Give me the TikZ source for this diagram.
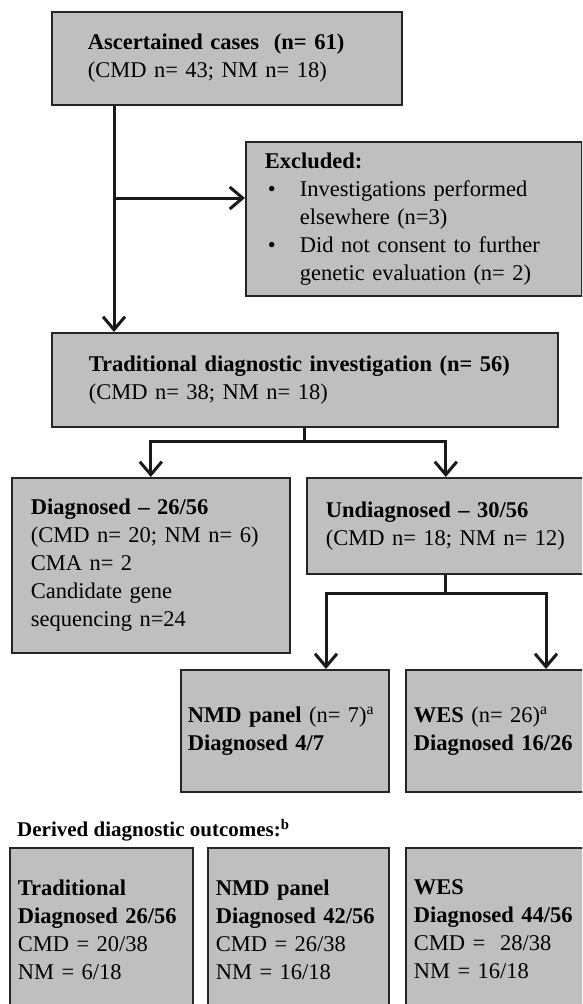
\documentclass[tikz,border=0pt]{standalone}
\usepackage{fontspec}
\setmainfont{Liberation Serif}
\usetikzlibrary{arrows.meta}

\begin{document}
\begin{tikzpicture}[x=1pt, y=-1pt,
    box/.style={draw=black!85, line width=1.6pt, fill=black!25, anchor=north west, align=left,
      inner ysep=0pt, font=\fontsize{22.5}{28}\selectfont},
    link/.style={line width=3pt, draw=black!90},
    arr/.style={link, -{Straight Barb[length=13pt, width=22pt]}}]
    \useasboundingbox (0,0) rectangle (582,1004);
    \clip (0,0) rectangle (582,1004);
    \node[box, minimum width=350pt, minimum height=93pt, inner xsep=36pt, text width=278pt] (asc) at (51,11)
      {\textbf{Ascertained cases\ \ (n= 61)}\\(CMD n= 43; NM n= 18)};
    \node[box, minimum width=336pt, minimum height=154pt, inner xsep=19pt, text width=298pt] (excl) at (245,141)
      {\textbf{Excluded:}\\
       \makebox[35pt][l]{\hspace*{3pt}\textbullet}Investigations performed\\
       \hspace*{35pt}elsewhere (n=3)\\
       \makebox[35pt][l]{\hspace*{3pt}\textbullet}Did not consent to further\\
       \hspace*{35pt}genetic evaluation (n= 2)};
    \node[box, minimum width=506pt, minimum height=94pt, inner xsep=37pt, text width=432pt] (trad) at (51,332)
      {\textbf{Traditional diagnostic investigation (n= 56)}\\(CMD n= 38; NM n= 18)};
    \node[box, minimum width=278pt, minimum height=175pt, inner xsep=19pt, text width=240pt] (diag) at (11,477)
      {\textbf{Diagnosed -- 26/56}\\(CMD n= 20; NM n= 6)\\CMA n= 2\\Candidate gene\\sequencing n=24};
    \node[box, minimum width=278pt, minimum height=96pt, inner xsep=19pt, text width=240pt] (undiag) at (306,477)
      {\textbf{Undiagnosed -- 30/56}\\(CMD n= 18; NM n= 12)};
    \node[box, minimum width=208pt, minimum height=122pt, inner xsep=7pt, text width=194pt] (nmd) at (180,669)
      {\textbf{NMD panel} (n= 7)\textsuperscript{a}\\\textbf{Diagnosed 4/7}};
    \node[box, minimum width=180pt, minimum height=122pt, inner xsep=8pt, text width=164pt] (wes) at (405,669)
      {\textbf{WES} (n= 26)\textsuperscript{a}\\\textbf{Diagnosed 16/26}};
    \node[anchor=west, inner sep=0pt, font=\fontsize{21}{27}\selectfont\bfseries] (outhead) at (17,830)
      {Derived diagnostic outcomes:\textsuperscript{b}};
    \node[box, minimum width=183pt, minimum height=163pt, inner xsep=8pt, text width=167pt] (outtrad) at (9,847)
      {\textbf{Traditional}\\\textbf{Diagnosed 26/56}\\CMD = 20/38\\NM = 6/18};
    \node[box, minimum width=181pt, minimum height=163pt, inner xsep=8pt, text width=165pt] (outnmd) at (207,847)
      {\textbf{NMD panel}\\\textbf{Diagnosed 42/56}\\CMD = 26/38\\NM = 16/18};
    \node[box, minimum width=185pt, minimum height=163pt, inner xsep=8pt, text width=169pt] (outwes) at (405,847)
      {\textbf{WES}\\\textbf{Diagnosed 44/56}\\CMD = \ 28/38\\NM = 16/18};
    \coordinate (trunk) at (114,198);
    \draw [arr] (asc.south -| trunk) -- (trad.north -| trunk);
    \draw [arr] (trunk) -- (trunk -| excl.west);
    \draw [link] (trad.south) -- ++(0,14) coordinate (fork1);
    \draw [arr] (fork1) -| (diag.north);
    \draw [arr] (fork1) -| (undiag.north);
    \draw [link] (undiag.south) -- ++(0,19) coordinate (fork2);
    \coordinate (nmdin) at ([xshift=146pt]nmd.north west);
    \coordinate (wesin) at ([xshift=141pt]wes.north west);
    \draw [arr] (fork2) -| (nmdin);
    \draw [arr] (fork2) -| (wesin);
\end{tikzpicture}
\end{document}
